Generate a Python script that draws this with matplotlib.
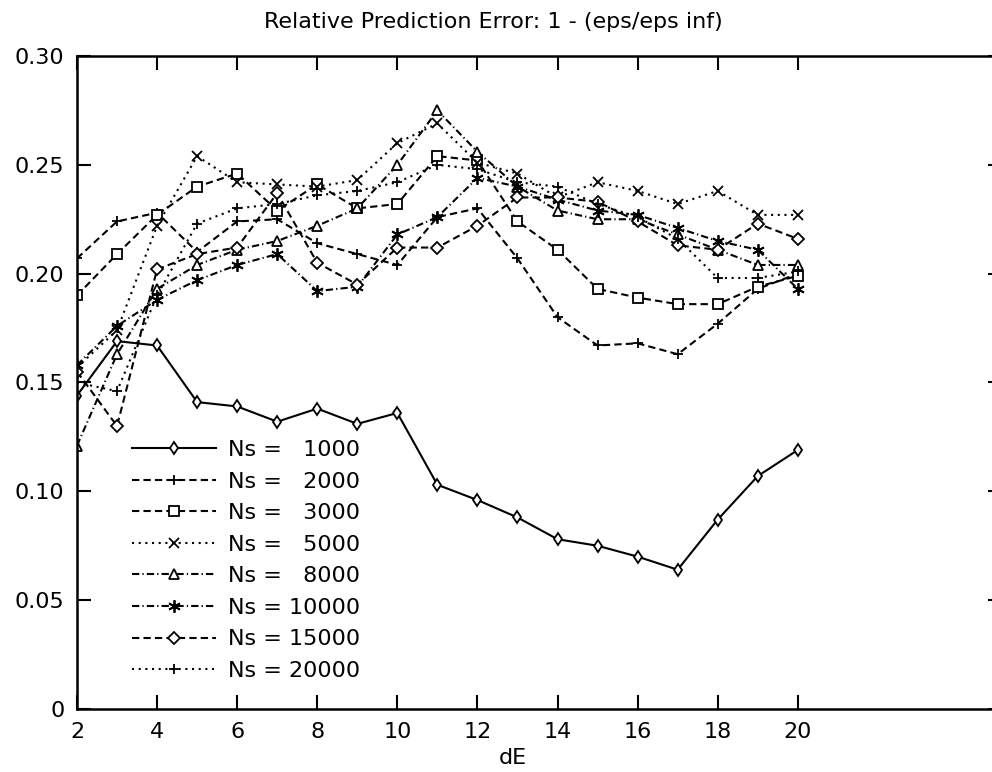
import numpy as np
import matplotlib
matplotlib.use('Agg')
import matplotlib.pyplot as plt

# dE values and relative prediction error for each Ns
de = [2, 3, 4, 5, 6, 7, 8, 9, 10, 11, 12, 13, 14, 15, 16, 17, 18, 19, 20]
ns_labels = ['1000', '2000', '3000', '5000', '8000', '10000', '15000', '20000']

err_1000 = [0.144, 0.169, 0.167, 0.141, 0.139, 0.132, 0.138, 0.131, 0.136, 0.103,
            0.096, 0.088, 0.078, 0.075, 0.070, 0.064, 0.087, 0.107, 0.119]
err_2000 = [0.207, 0.224, 0.228, 0.210, 0.224, 0.225, 0.214, 0.209, 0.204, 0.226,
            0.230, 0.207, 0.180, 0.167, 0.168, 0.163, 0.177, 0.193, 0.200]
err_3000 = [0.190, 0.209, 0.227, 0.240, 0.246, 0.229, 0.241, 0.230, 0.232, 0.254,
            0.252, 0.224, 0.211, 0.193, 0.189, 0.186, 0.186, 0.194, 0.199]
err_5000 = [0.157, 0.174, 0.222, 0.254, 0.242, 0.241, 0.240, 0.243, 0.260, 0.269,
            0.251, 0.246, 0.235, 0.242, 0.238, 0.232, 0.238, 0.227, 0.227]
err_8000 = [0.121, 0.163, 0.193, 0.204, 0.211, 0.215, 0.222, 0.230, 0.250, 0.275,
            0.256, 0.240, 0.229, 0.225, 0.225, 0.218, 0.211, 0.204, 0.204]
err_10000 = [0.158, 0.176, 0.188, 0.197, 0.204, 0.209, 0.192, 0.194, 0.218, 0.226,
             0.244, 0.240, 0.234, 0.229, 0.227, 0.221, 0.215, 0.211, 0.193]
err_15000 = [0.155, 0.130, 0.202, 0.209, 0.212, 0.237, 0.205, 0.195, 0.212, 0.212,
             0.222, 0.235, 0.235, 0.233, 0.224, 0.213, 0.211, 0.223, 0.216]
err_20000 = [0.150, 0.146, 0.190, 0.223, 0.230, 0.232, 0.236, 0.238, 0.242, 0.250,
             0.248, 0.242, 0.240, 0.232, 0.226, 0.216, 0.198, 0.198, 0.201]

yticks = [0, 0.05, 0.10, 0.15, 0.20, 0.25, 0.30]
ytick_labels = ['0', '0.05', '0.10', '0.15', '0.20', '0.25', '0.30']

series = [err_1000, err_2000, err_3000, err_5000, err_8000, err_10000, err_15000, err_20000]
markers = ['d', '+', 's', 'x', '^', (6, 2, 0), 'D', '+']
msizes = [6.5, 7, 6.5, 7, 6.5, 9, 6.5, 7]
dashes = [None, (3.5, 2), (3.5, 2), (1, 2.2), (3.5, 1.5, 0.6, 1.5),
          (3.5, 1.5, 0.6, 1.5), (3.5, 2), (1, 2.2)]

plt.rcParams['font.family'] = 'DejaVu Sans'
plt.rcParams['font.size'] = 16

fig = plt.figure(figsize=(9.92, 7.72), dpi=100)
# right spine sits just past the image edge, as in the scan
ax = fig.add_axes([77 / 992, 63 / 772, 925 / 992, 653 / 772])

for vals, lab, mk, ms, ds in zip(series, ns_labels, markers, msizes, dashes):
    label = 'Ns = ' + ('\u2007' if len(lab) == 4 else '') + lab
    line, = ax.plot(de, vals, color='black', lw=1.5, marker=mk, markersize=ms,
                    markerfacecolor='white', markeredgecolor='black',
                    markeredgewidth=1.3, label=label)
    if ds is not None:
        line.set_dashes(ds)

ax.set_xlim(2, 25.1)
ax.set_ylim(0, 0.30)
ax.set_xticks(range(2, 21, 2))
ax.set_yticks(yticks)
ax.set_yticklabels(ytick_labels)
ax.tick_params(direction='in', length=10, width=1.5, top=True, right=True,
               labelsize=16, pad=9)
for sp in ax.spines.values():
    sp.set_linewidth(1.8)

fig.text(493 / 992, 1 - 22 / 772, 'Relative Prediction Error: 1 - (eps/eps inf)',
         ha='center', va='center', fontsize=16)
fig.text(513 / 992, 1 - 758 / 772, 'dE', ha='center', va='center', fontsize=16)

ax.legend(loc='upper left', bbox_to_anchor=(132 / 992, 1 - 440 / 772),
          bbox_transform=fig.transFigure, frameon=False, borderpad=0,
          borderaxespad=0, handlelength=3.8, handletextpad=0.5,
          labelspacing=0.52, fontsize=16)

fig.savefig('out.png', dpi=100)
